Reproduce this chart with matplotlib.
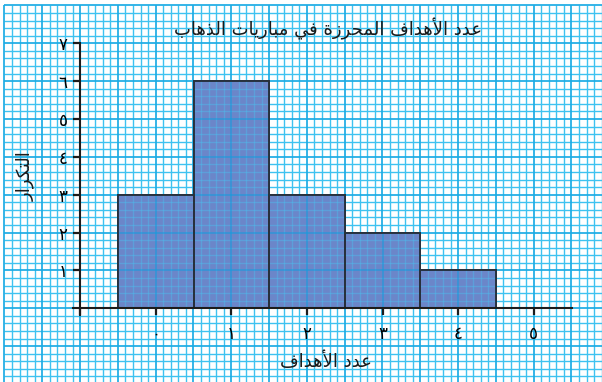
import matplotlib
matplotlib.use("Agg")
import matplotlib.pyplot as plt
import numpy as np
from matplotlib.collections import LineCollection

# ---- data -------------------------------------------------------------
goals = [0, 1, 2, 3, 4]
frequency = [3, 6, 3, 2, 1]
x_ticks = [-1, 0, 1, 2, 3, 4, 5]
x_tick_labels = ["", "٠", "١", "٢", "٣", "٤", "٥"]
y_ticks = [1, 2, 3, 4, 5, 6, 7]
y_tick_labels = ["١", "٢", "٣", "٤", "٥", "٦", "٧"]
title_text = "عدد الأهداف المحرزة في مباريات الذهاب"
x_label_text = "عدد الأهداف"
y_label_text = "التكرار"

# ---- Arabic shaping (contextual forms + right-to-left order) ----------
FORMS = {
    'ا': ('\uFE8D', '\uFE8E', None, None),
    'أ': ('\uFE83', '\uFE84', None, None),
    'ب': ('\uFE8F', '\uFE90', '\uFE91', '\uFE92'),
    'ة': ('\uFE93', '\uFE94', None, None),
    'ت': ('\uFE95', '\uFE96', '\uFE97', '\uFE98'),
    'ح': ('\uFEA1', '\uFEA2', '\uFEA3', '\uFEA4'),
    'د': ('\uFEA9', '\uFEAA', None, None),
    'ذ': ('\uFEAB', '\uFEAC', None, None),
    'ر': ('\uFEAD', '\uFEAE', None, None),
    'ز': ('\uFEAF', '\uFEB0', None, None),
    'ع': ('\uFEC9', '\uFECA', '\uFECB', '\uFECC'),
    'ف': ('\uFED1', '\uFED2', '\uFED3', '\uFED4'),
    'ك': ('\uFED9', '\uFEDA', '\uFEDB', '\uFEDC'),
    'ل': ('\uFEDD', '\uFEDE', '\uFEDF', '\uFEE0'),
    'م': ('\uFEE1', '\uFEE2', '\uFEE3', '\uFEE4'),
    'ه': ('\uFEE9', '\uFEEA', '\uFEEB', '\uFEEC'),
    'ي': ('\uFEF1', '\uFEF2', '\uFEF3', '\uFEF4'),
}
LAM_ALEF = {'ا': ('\uFEFB', '\uFEFC'), 'أ': ('\uFEF7', '\uFEF8')}


def shape(text):
    tokens = []
    i = 0
    while i < len(text):
        c = text[i]
        if c == 'ل' and i + 1 < len(text) and text[i + 1] in LAM_ALEF:
            tokens.append(('LA', text[i + 1]))
            i += 2
        else:
            tokens.append(('C', c))
            i += 1

    def joins_next(tok):
        kind, c = tok
        return kind == 'C' and c in FORMS and FORMS[c][2] is not None

    def joins_prev(tok):
        kind, c = tok
        return kind == 'LA' or c in FORMS

    out = []
    for k, tok in enumerate(tokens):
        prev_ok = k > 0 and joins_next(tokens[k - 1]) and joins_prev(tok)
        next_ok = k + 1 < len(tokens) and joins_next(tok) and joins_prev(tokens[k + 1])
        kind, c = tok
        if kind == 'LA':
            out.append(LAM_ALEF[c][1 if prev_ok else 0])
        elif c in FORMS:
            iso, fin, ini, med = FORMS[c]
            if prev_ok and next_ok:
                out.append(med)
            elif prev_ok:
                out.append(fin)
            elif next_ok:
                out.append(ini)
            else:
                out.append(iso)
        else:
            out.append(c)
    return ''.join(reversed(out))


plt.rcParams['font.family'] = ['DejaVu Sans']

W, H = 602, 382
fig = plt.figure(figsize=(W / 100, H / 100), dpi=100)
fig.patch.set_facecolor('white')

# data-to-pixel scale shared by the graph paper and the chart
px_per_x = 75.6
px_per_y = 37.86
x0_px, y0_px = 155.7, 308.3          # pixel position of data (0, 0)

xlim = (-1.1, 5.5)
ylim = (-0.2, 7.0)

# ---- graph paper covering the whole figure ---------------------------
bg = fig.add_axes([0, 0, 1, 1], zorder=0)
bg_xlim = (-x0_px / px_per_x, (W - x0_px) / px_per_x)
bg_ylim = (-(H - y0_px) / px_per_y, y0_px / px_per_y)
bg.set_xlim(bg_xlim)
bg.set_ylim(bg_ylim)
bg.axis('off')

minor_c, major_c = '#3ec2f0', '#1cabe4'
x_top_line = 8.0
x_left_line = -2.0
for k in range(-20, 60):
    xv = k * 0.1
    if xv > bg_xlim[1]:
        break
    major = k % 5 == 0
    bg.plot([xv, xv], [bg_ylim[0] - 1, x_top_line], color=major_c if major else minor_c,
            lw=1.25 if major else 1.0, solid_capstyle='butt', zorder=1 if major else 0.5)
for k in range(-9, 41):
    yv = k * 0.2
    major = k % 5 == 0
    bg.plot([x_left_line, bg_xlim[1] + 1], [yv, yv], color=major_c if major else minor_c,
            lw=1.25 if major else 1.0, solid_capstyle='butt', zorder=1 if major else 0.5)

# ---- chart axes ------------------------------------------------------
left = (x0_px + xlim[0] * px_per_x) / W
right = (x0_px + xlim[1] * px_per_x) / W
bottom = (H - (y0_px - ylim[0] * px_per_y)) / H
top = (H - (y0_px - ylim[1] * px_per_y)) / H
ax = fig.add_axes([left, bottom, right - left, top - bottom], zorder=2)
ax.patch.set_alpha(0)
ax.set_xlim(xlim)
ax.set_ylim(ylim)

bars = ax.bar(goals, frequency, width=1.0, align='center', color='#6b86c9',
              edgecolor='#28303c', linewidth=1.3, zorder=2)

# grid lines seen through the bars
segs_minor, segs_major = [], []
for k in range(-15, 60):
    xv = k * 0.1
    (segs_major if k % 5 == 0 else segs_minor).append([(xv, -1), (xv, 8)])
for k in range(-5, 41):
    yv = k * 0.2
    (segs_major if k % 5 == 0 else segs_minor).append([(-2, yv), (6, yv)])
for b in bars:
    lc1 = LineCollection(segs_minor, colors='#48c4f2', linewidths=1.0, alpha=0.4, zorder=3)
    lc2 = LineCollection(segs_major, colors='#109ee0', linewidths=1.3, alpha=0.55, zorder=3)
    for lc in (lc1, lc2):
        ax.add_collection(lc)
        lc.set_clip_path(b)
# bar outlines above the see-through grid
ax.bar(goals, frequency, width=1.0, align='center', fill=False,
       edgecolor='#28303c', linewidth=1.3, zorder=4)

for s in ('top', 'right'):
    ax.spines[s].set_visible(False)
ax.spines['left'].set_position(('data', -1))
ax.spines['left'].set_bounds(-0.18, 7)
ax.spines['bottom'].set_position(('data', 0))
ax.spines['bottom'].set_bounds(-1.1, 5.5)
for s in ('left', 'bottom'):
    ax.spines[s].set_color('#1c1c1c')
    ax.spines[s].set_linewidth(1.5)
    ax.spines[s].set_zorder(5)

ax.set_xticks(x_ticks)
ax.set_xticklabels(x_tick_labels, fontsize=12)
ax.set_yticks(y_ticks)
ax.set_yticklabels(y_tick_labels, fontsize=12)
ax.tick_params(axis='x', direction='out', length=5, width=1.6, color='#1c1c1c', pad=7)
ax.tick_params(axis='y', direction='out', length=5, width=1.6, color='#1c1c1c', pad=4)

# ---- titles ----------------------------------------------------------
fig.text(328 / W, 1 - 29 / H, shape(title_text), ha='center', va='center',
         fontsize=13, color='#1a1a1a')
fig.text(326 / W, 1 - 362 / H, shape(x_label_text), ha='center', va='center',
         fontsize=13, color='#1a1a1a')
fig.text(25 / W, 1 - 176 / H, shape(y_label_text), ha='center', va='center',
         rotation=90, fontsize=13, color='#1a1a1a')

fig.savefig('out.png', dpi=100, facecolor='white')
